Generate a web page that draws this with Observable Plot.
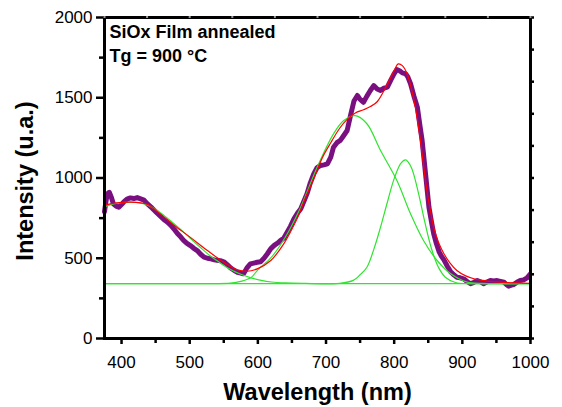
<!DOCTYPE html>
<html><head><meta charset="utf-8">
<script src="https://cdn.jsdelivr.net/npm/d3@7"></script>
<script src="https://cdn.jsdelivr.net/npm/@observablehq/plot@0.6"></script>
<style>body{margin:0;background:#fff;} svg{display:block}</style>
</head><body><div id="chart"></div>
<script>
// Measured PL spectrum (purple)
const dataWavelength = [375,377,379,382,385,388,392,396,400,403,408,413,418,423,428,433,438,445,452,457,462,467,472,477,482,487,491,496,501,506,511,516,521,526,531,536,540,545,550,555,560,565,570,575,579,584,589,594,599,604,609,614,619,624,629,633,638,643,648,653,658,663,668,672,677,682,687,692,697,702,707,711,716,721,726,731,736,741,746,750,755,760,765,770,775,780,785,790,795,800,804,808,812,817,820,824,829,834,838,841,846,851,855,858,862,866,869,873,878,883,888,892,897,902,907,912,917,922,927,931,936,941,946,951,956,961,965,968,972,975,980,985,990,995,999];
const dataIntensity = [790,850,901,911,880,839,825,818,835,849,868,876,872,878,870,862,839,812,782,762,742,726,706,682,654,632,612,593,579,562,548,525,507,500,496,490,487,485,478,460,440,425,413,408,403,440,465,470,475,478,500,528,560,580,595,610,625,662,700,746,780,808,860,901,970,1026,1065,1078,1082,1088,1130,1192,1220,1234,1265,1296,1390,1480,1514,1490,1472,1510,1545,1576,1555,1545,1560,1566,1610,1650,1675,1668,1655,1649,1630,1587,1510,1441,1320,1234,1026,818,720,652,590,540,515,490,450,415,395,382,378,372,355,341,350,361,352,341,352,361,358,361,356,351,335,326,332,336,350,361,365,378,399];

// Cumulative fit (red)
const fitWavelength = [375,390,413,438,452,477,501,526,550,570,584,599,619,638,648,658,670,682,695,707,720,731,743,755,765,775,790,800,806,812,819,825,831,838,843,848,853,858,865,873,882,892,905,917,930,942,960,980,1000];
const fitIntensity = [829,843,850,836,792,706,630,548,475,428,419,434,486,590,665,750,880,995,1130,1220,1310,1365,1405,1425,1445,1475,1585,1670,1711,1700,1649,1560,1441,1250,1080,922,800,694,600,528,470,424,390,372,362,355,350,346,344];

// Fit components (green)
const peak1Wavelength = [375,390,400,413,425,440,455,470,485,500,515,530,545,560,575,590,605,620,640,670,700,800,900,1000];
const peak1Intensity = [822,840,847,850,846,828,790,740,686,628,570,515,470,430,400,378,362,352,346,343,342,342,342,342];
const peak2Wavelength = [375,450,520,560,575,590,600,620,640,662,687,711,726,743,760,780,804,824,843,863,883,907,930,960,1000];
const peak2Intensity = [342,342,342,345,356,380,428,507,629,810,1067,1275,1358,1389,1338,1171,984,777,611,486,403,351,343,342,342];
const peak3Wavelength = [375,500,650,720,740,750,760,770,780,790,800,810,817,825,835,845,855,865,875,890,910,950,1000];
const peak3Intensity = [342,342,342,344,362,397,444,554,694,849,996,1093,1113,1067,917,725,556,443,382,349,342,342,342];

// Axis ticks
const xTicks = [400,500,600,700,800,900,1000];
const xMinorTicks = [450,550,650,750,850,950];
const yTicks = [0,500,1000,1500,2000];
const yMinorTicks = [250,750,1250,1750];
const rightTicks = [0,200,400,600,800,1000,1200,1400,1600,1800,2000];
const topTicks = [375,437.5,500,562.5,625,687.5,750,812.5,875,937.5,1000];

const rows = (xs, ys) => xs.map((x, i) => ({x, y: ys[i]}));
const font = "'Liberation Sans', Arial, Helvetica, sans-serif";
const green = "#2fe42f";
const plain = d => String(d);

const chart = Plot.plot({
  width: 562, height: 407,
  marginLeft: 104, marginRight: 32, marginTop: 17, marginBottom: 69,
  style: {fontFamily: font, fontSize: "17px", background: "#fff", color: "#000"},
  x: {domain: [375, 1000]},
  y: {domain: [0, 2000]},
  marks: [
    Plot.line(rows(dataWavelength, dataIntensity), {x: "x", y: "y", stroke: "#7a1080", strokeWidth: 5, strokeLinejoin: "round"}),
    Plot.line(rows(peak1Wavelength, peak1Intensity), {x: "x", y: "y", stroke: green, strokeWidth: 1.2, curve: "catmull-rom"}),
    Plot.line(rows(peak2Wavelength, peak2Intensity), {x: "x", y: "y", stroke: green, strokeWidth: 1.2, curve: "catmull-rom"}),
    Plot.line(rows(peak3Wavelength, peak3Intensity), {x: "x", y: "y", stroke: green, strokeWidth: 1.2, curve: "catmull-rom"}),
    Plot.line(rows(fitWavelength, fitIntensity), {x: "x", y: "y", stroke: "#ff0000", strokeWidth: 1.2, curve: "catmull-rom"}),
    Plot.frame({stroke: "#000", strokeWidth: 3}),
    Plot.axisY(yTicks, {anchor: "left", tickSize: 8, tickPadding: 4, strokeWidth: 2.5, label: null, fontSize: 17, tickFormat: plain}),
    Plot.axisY(yMinorTicks, {anchor: "left", tickSize: 5, strokeWidth: 2.5, tickFormat: () => "", label: null}),
    Plot.axisX(xTicks, {anchor: "bottom", tickSize: 6, tickPadding: 11, strokeWidth: 2.5, label: null, fontSize: 17, tickFormat: plain}),
    Plot.axisX(xMinorTicks, {anchor: "bottom", tickSize: 5, strokeWidth: 2.5, tickFormat: () => "", label: null}),
    Plot.axisY(rightTicks, {anchor: "right", tickSize: 3, strokeWidth: 2.5, tickFormat: () => "", label: null}),
    Plot.axisX(topTicks, {anchor: "top", tickSize: 2, strokeWidth: 2, stroke: "#999", tickFormat: () => "", label: null}),
    Plot.text(["Wavelength (nm)"], {text: d => d, frameAnchor: "bottom", textAnchor: "middle", dy: 61, lineAnchor: "bottom", fontSize: 23.5, fontWeight: "bold"}),
    Plot.text(["Intensity (u.a.)"], {text: d => d, frameAnchor: "left", textAnchor: "middle", lineAnchor: "middle", dx: -79, dy: 3, rotate: -90, fontSize: 23.5, fontWeight: "bold"}),
    Plot.text(["SiOx Film annealed"], {text: d => d, frameAnchor: "top-left", dx: 5, dy: 20, textAnchor: "start", lineAnchor: "bottom", fontSize: 18, fontWeight: "bold"}),
    Plot.text(["Tg = 900 °C"], {text: d => d, frameAnchor: "top-left", dx: 5, dy: 44, textAnchor: "start", lineAnchor: "bottom", fontSize: 18, fontWeight: "bold"})
  ]
});
document.getElementById("chart").appendChild(chart);
</script>
</body></html>
